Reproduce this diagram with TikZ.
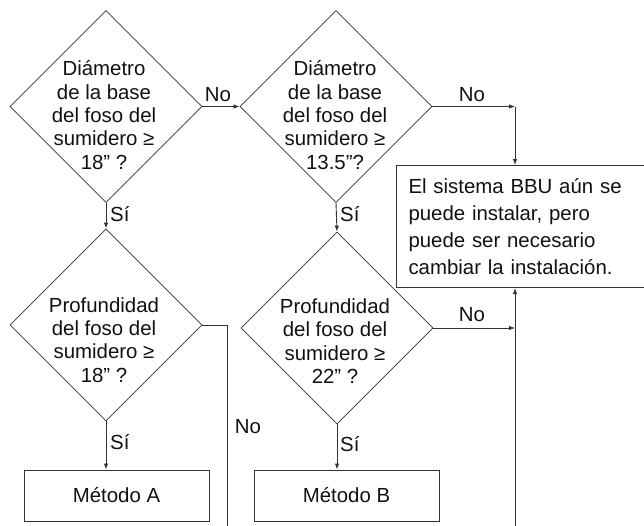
\documentclass[tikz,border=0pt]{standalone}
\usepackage{fontspec}
\setmainfont{Liberation Sans}
\usetikzlibrary{arrows.meta,shapes.geometric}
\definecolor{ink}{HTML}{111111}
\definecolor{wire}{HTML}{333333}
\begin{document}
\begin{tikzpicture}[x=1pt,y=-1pt,
  every node/.style={text=ink, font=\fontsize{20.4}{23.3}\selectfont},
  dia/.style={draw=wire, line width=0.8pt, diamond, aspect=1, minimum width=192pt, minimum height=192pt, inner sep=0pt},
  qtxt/.style={align=center, inner sep=0pt},
  boxnode/.style={draw=wire, line width=1pt, rectangle, inner sep=0pt},
  lbl/.style={inner sep=1pt},
  ln/.style={draw=wire, line width=0.9pt},
  arr/.style={ln, -{Latex[length=6pt,width=4.5pt]}}]
\useasboundingbox (0,0) rectangle (644,525);
\clip (0,0) rectangle (644,525);
% diamonds
\node[dia] (d1) at (106,106.5) {};
\node[dia] (d2) at (336,106.5) {};
\node[dia] (d3) at (106,325) {};
\node[dia] (d4) at (337,328) {};
\node[qtxt] (q1) at (104,115) {Diámetro\\de la base\\del foso del\\sumidero ≥\\18” ?};
\node[qtxt] (q2) at (335,115) {Diámetro\\de la base\\del foso del\\sumidero ≥\\13.5”?};
\node[qtxt] (q3) at (104,340) {Profundidad\\del foso del\\sumidero ≥\\18” ?};
\node[qtxt] (q4) at (335,341) {Profundidad\\del foso del\\sumidero ≥\\22” ?};
% boxes
\node[boxnode, anchor=north west, minimum width=260pt, minimum height=122pt, text width=236pt, inner xsep=12pt, align=left,
  font=\fontsize{20.4}{27}\selectfont] (box) at (396,165)
  {El sistema BBU aún se\\puede instalar, pero\\puede ser necesario\\cambiar la instalación.};
\node[boxnode, minimum width=185pt, minimum height=51pt] (ma) at (116.5,495.5) {Método A};
\node[boxnode, minimum width=185pt, minimum height=51pt] (mb) at (346.5,495.5) {Método B};
% coordinates
\coordinate (c2) at (515,106.5);
\coordinate (e1) at (227.5,526);
\coordinate (e2) at (515,526);
% connectors
\draw[arr] (d1.east) -- (d2.west);
\draw[arr] (d1.south) -- (d3.north);
\draw[arr] (d2.east) -- (c2);
\draw[arr] (c2) -- (c2 |- box.north);
\draw[arr] (d2.south) -- (d4.north);
\draw[ln] (d3.east) -| (e1);
\draw[arr] (d3.south) -- (d3.south |- ma.north);
\draw[arr] (d4.south) -- (d4.south |- mb.north);
\draw[arr] (d4.east) -- (d4.east -| c2);
\draw[arr] (e2) -- (e2 |- box.south);
% labels
\node[lbl] (l1) at (218,95) {No};
\node[lbl] (l2) at (472,95) {No};
\node[lbl, anchor=west] (l3) at (109,214) {Sí};
\node[lbl, anchor=west] (l4) at (339,214) {Sí};
\node[lbl] (l5) at (472,315) {No};
\node[lbl] (l6) at (248,427) {No};
\node[lbl, anchor=west] (l7) at (109,442) {Sí};
\node[lbl, anchor=west] (l8) at (339,444) {Sí};
\end{tikzpicture}
\end{document}
